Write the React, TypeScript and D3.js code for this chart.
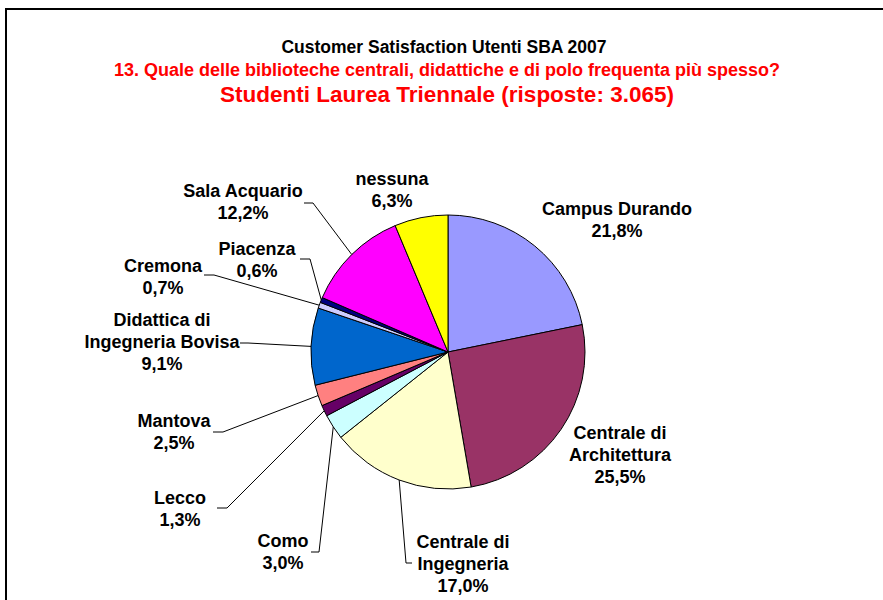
import React from "react";
import * as d3 from "d3";

const categories = [
  "Campus Durando",
  "Centrale di Architettura",
  "Centrale di Ingegneria",
  "Como",
  "Lecco",
  "Mantova",
  "Didattica di Ingegneria Bovisa",
  "Cremona",
  "Piacenza",
  "Sala Acquario",
  "nessuna",
];
const values = [21.8, 25.5, 17.0, 3.0, 1.3, 2.5, 9.1, 0.7, 0.6, 12.2, 6.3];
const labelLines = [
  ["Campus Durando"],
  ["Centrale di", "Architettura"],
  ["Centrale di", "Ingegneria"],
  ["Como"],
  ["Lecco"],
  ["Mantova"],
  ["Didattica di", "Ingegneria Bovisa"],
  ["Cremona"],
  ["Piacenza"],
  ["Sala Acquario"],
  ["nessuna"],
];
const colors = [
  "#9999FF", "#993366", "#FFFFCC", "#CCFFFF", "#660066", "#FF8080",
  "#0066CC", "#CCCCFF", "#000080", "#FF00FF", "#FFFF00",
];
const titleLines = [
  "Customer Satisfaction Utenti SBA 2007",
  "13. Quale delle biblioteche centrali, didattiche e di polo frequenta più spesso?",
  "Studenti Laurea Triennale (risposte: 3.065)",
];

// layout: label center x, first baseline y, leader [start, stub] or null
const labelLayout: { x: number; y: number; leader: number[][] | null }[] = [
  { x: 617, y: 215, leader: null },
  { x: 620, y: 439, leader: null },
  { x: 463, y: 548, leader: [[412, 563], [406, 563]] },
  { x: 283, y: 547, leader: [[311, 552], [319, 552]] },
  { x: 180, y: 504, leader: [[217, 508], [227, 508]] },
  { x: 174, y: 427, leader: [[213, 432], [223, 432]] },
  { x: 162, y: 326, leader: [[240, 343], [248, 343]] },
  { x: 163, y: 272, leader: [[204, 275], [214, 275]] },
  { x: 257, y: 255, leader: [[300, 259], [310, 259]] },
  { x: 243, y: 197, leader: [[304, 203], [313, 203]] },
  { x: 392, y: 185, leader: null },
];

const fmt = (v: number) => v.toFixed(1).replace(".", ",") + "%";

export default function App() {
  const cx = 448, cy = 352, r = 137;
  const pie = d3.pie<number>().sort(null).value((d) => d)(values);
  const arc = d3.arc<d3.PieArcDatum<number>>().innerRadius(0).outerRadius(r);
  const edge = d3.arc<d3.PieArcDatum<number>>().innerRadius(r).outerRadius(r);
  const font = "'Liberation Sans', Arial, sans-serif";
  const line = d3.line();
  return (
    <svg width={883} height={600} style={{ position: "absolute", left: 0, top: 0 }}>
      <rect x={0} y={0} width={883} height={600} fill="#fff" />
      <path d="M6,600 V9 H883" fill="none" stroke="#000" strokeWidth={2} />
      <g fontFamily={font} fontWeight="bold" textAnchor="middle">
        <text x={444} y={53} fontSize={17.5} fill="#000">{titleLines[0]}</text>
        <text x={447} y={76} fontSize={18} fill="#FF0000">{titleLines[1]}</text>
        <text x={447} y={102} fontSize={22.5} fill="#FF0000">{titleLines[2]}</text>
      </g>
      <g transform={`translate(${cx},${cy})`}>
        {pie.map((p, i) => (
          <path key={i} d={arc(p) || ""} fill={colors[i]} stroke="#000" strokeWidth={1} />
        ))}
      </g>
      <g fill="none" stroke="#000" strokeWidth={1}>
        {pie.map((p, i) => {
          const L = labelLayout[i].leader;
          if (!L) return null;
          const c = edge.centroid(p);
          const pts: [number, number][] = [
            [L[0][0], L[0][1]],
            [L[1][0], L[1][1]],
            [cx + c[0], cy + c[1]],
          ];
          return <path key={i} d={line(pts) || ""} />;
        })}
      </g>
      <g fontFamily={font} fontWeight="bold" fontSize={18} textAnchor="middle" fill="#000">
        {categories.map((c, i) => {
          const lay = labelLayout[i];
          const lines = [...labelLines[i], fmt(values[i])];
          return (
            <text key={c} x={lay.x} y={lay.y}>
              {lines.map((t, j) => (
                <tspan key={j} x={lay.x} dy={j === 0 ? 0 : 22}>{t}</tspan>
              ))}
            </text>
          );
        })}
      </g>
    </svg>
  );
}
